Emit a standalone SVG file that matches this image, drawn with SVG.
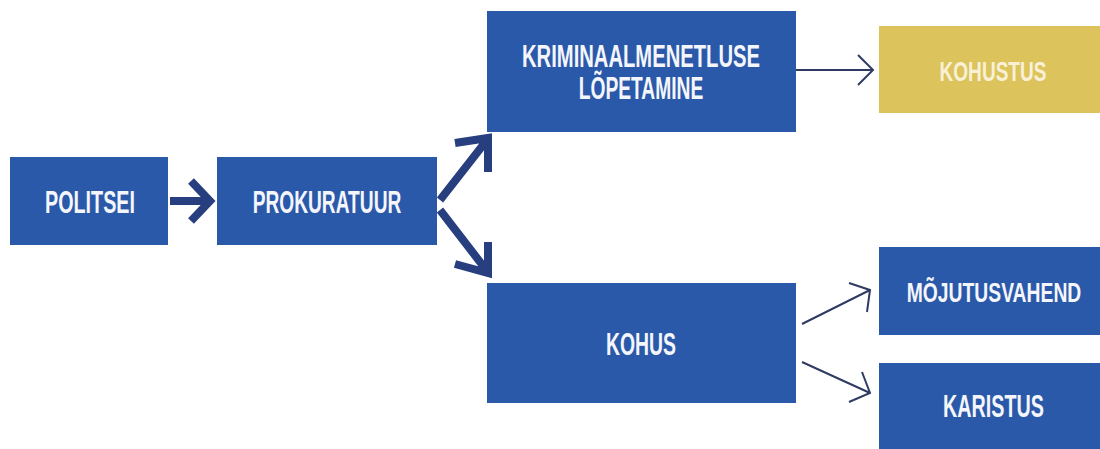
<svg xmlns="http://www.w3.org/2000/svg" width="1100" height="449" viewBox="0 0 1100 449">
<style>
.box{fill:#2b59a9}
.gold{fill:#dcc35c}
.t{font-family:"Liberation Sans",Arial,sans-serif;font-weight:bold;fill:#f4f6fb;font-size:32px;text-anchor:middle}
.m{font-size:31px}
.s{font-size:28px}
.tg{fill:#f8f1d8}
.thick{fill:none;stroke:#283f7f;stroke-width:8;stroke-linecap:butt;stroke-linejoin:miter}
.thin{fill:none;stroke:#2f3b63;stroke-width:2}
</style>
<rect width="1100" height="449" fill="#ffffff"/>
<g id="politsei"><rect class="box" x="10" y="157" width="158" height="88"/><text class="t" transform="translate(90 213) scale(0.617 1)">POLITSEI</text></g>
<g id="prokuratuur"><rect class="box" x="217" y="157" width="220" height="88"/><text class="t" transform="translate(327 213) scale(0.599 1)">PROKURATUUR</text></g>
<g id="kriminaal"><rect class="box" x="487" y="11" width="309" height="121"/><text class="t m" transform="translate(641 67) scale(0.652 1)">KRIMINAALMENETLUSE</text><text class="t m" transform="translate(641 99) scale(0.62 1)">LÕPETAMINE</text></g>
<g id="kohustus"><rect class="gold" x="879" y="26" width="221" height="87"/><text class="t s tg" transform="translate(993 81) scale(0.681 1)">KOHUSTUS</text></g>
<g id="kohus"><rect class="box" x="487" y="283" width="309" height="120"/><text class="t" transform="translate(641 355) scale(0.606 1)">KOHUS</text></g>
<g id="mojutusvahend"><rect class="box" x="879" y="247" width="221" height="88"/><text class="t s" transform="translate(994 302) scale(0.69 1)">MÕJUTUSVAHEND</text></g>
<g id="karistus"><rect class="box" x="879" y="363" width="221" height="90"/><text class="t" transform="translate(993.5 417) scale(0.617 1)">KARISTUS</text></g>
<g id="connectors">
<path class="thick" d="M170 201 H208 M191 181 L210 201 L191 221"/>
<path class="thick" d="M440 200 L487 140 M455 143 L488 138 L488 172"/>
<path class="thick" d="M440 210 L487 271 M488 242 L488 273 L455 264"/>
<path class="thin" d="M796 70 H872 M858 55 L873 70 L858 85"/>
<path class="thin" d="M802 324 L870 290 M849 283 L870 290 L867 312"/>
<path class="thin" d="M802 362 L870 393 M862 372 L870 393 L849 402"/>
</g>
</svg>
